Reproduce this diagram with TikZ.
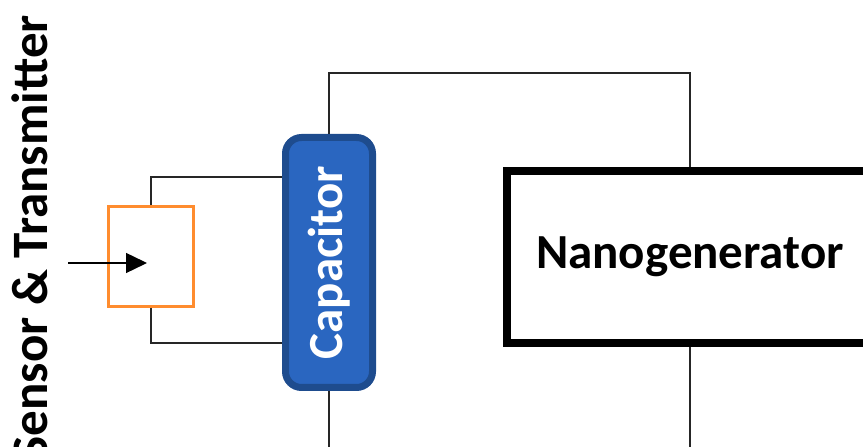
\documentclass[tikz,border=0pt]{standalone}
\usepackage{fontspec}
\setmainfont{Carlito}
\usetikzlibrary{arrows.meta}

\definecolor{capfill}{RGB}{42,102,192}
\definecolor{capedge}{RGB}{30,76,142}
\definecolor{sensorline}{RGB}{255,140,46}

\begin{document}
\begin{tikzpicture}[
    x=1pt, y=1pt,
    label font/.style={font=\fontsize{49}{50}\selectfont\bfseries},
    title font/.style={font=\fontsize{51}{52}\selectfont\bfseries},
    wire/.style={line width=1.4pt, color=black!85},
    capacitor box/.style={draw=capedge, fill=capfill, line width=7pt,
    rounded corners=16pt, minimum width=87pt, minimum height=250pt,
    inner sep=0pt, text=white, label font},
    generator box/.style={draw=black, line width=8pt, minimum width=366pt,
    minimum height=172pt, inner sep=0pt, label font},
    sensor box/.style={draw=sensorline, line width=3pt, minimum width=85pt,
    minimum height=100pt, inner sep=0pt},
    signal/.style={line width=1.4pt, -{Triangle[length=21pt,width=20pt]}}
    ]

    % frame
    \clip (0,0) rectangle (863,447);

    % blocks
    \node[capacitor box] (cap) at (329,184.5) {\rotatebox{90}{Capacitor}};
    \node[generator box] (ng) at (690,190) {Nanogenerator};
    \node[sensor box] (sensor) at (151,190.5) {};
    \node[title font, rotate=90, anchor=base east, inner sep=0pt] (title) at (47,432) {Sensor \& Transmitter};

    % wires
    \draw[wire] (cap.north) -- ++(0,61) -| (ng.north);
    \draw[wire] (sensor.north) |- ([yshift=85.5pt]cap.west);
    \draw[wire] (sensor.south) |- ([yshift=-80.5pt]cap.west);

    \coordinate (cap out) at (cap.south |- 0,0);
    \coordinate (ng out) at (ng.south |- 0,0);
    \draw[wire] (cap.south) -- (cap out);
    \draw[wire] (ng.south) -- (ng out);

    % input signal
    \coordinate (signal in) at (68,184);
    \draw[signal] (signal in) -- ([xshift=-4pt,yshift=-6.5pt]sensor.center);

\end{tikzpicture}
\end{document}
